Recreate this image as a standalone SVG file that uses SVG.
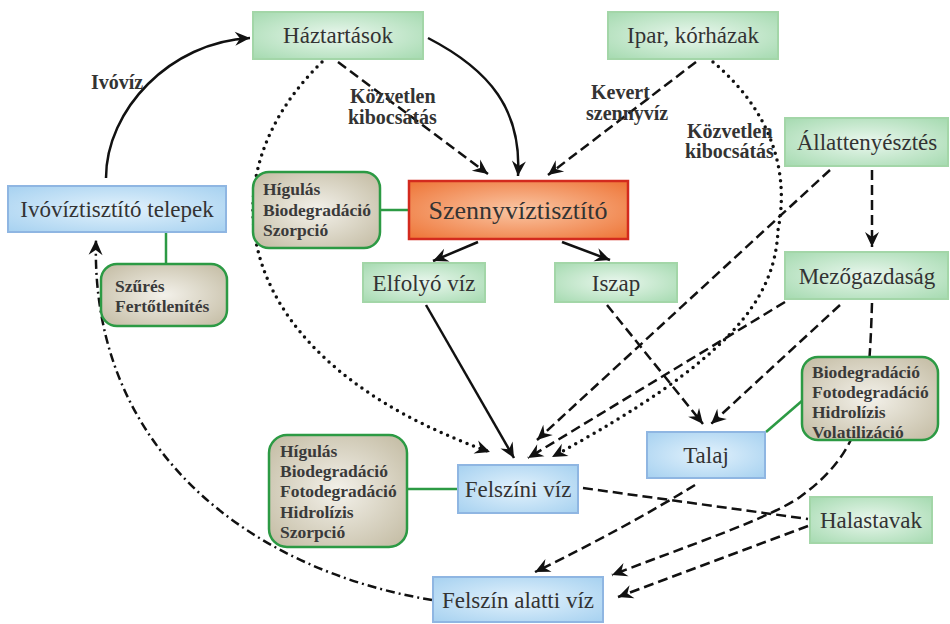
<svg xmlns="http://www.w3.org/2000/svg" width="950" height="624" viewBox="0 0 950 624">
<style>
.green{fill:url(#gGreen);stroke:#a3d6a8;stroke-width:2}
.blue{fill:url(#gBlue);stroke:#8fb6e2;stroke-width:2}
.orange{fill:url(#gOrange);stroke:#d32a1e;stroke-width:2.5}
.proc{fill:url(#gBeige);stroke:#2c9a44;stroke-width:2.5}
.nt{font-family:"Liberation Serif","Times New Roman",serif;font-size:23px;fill:#333;text-anchor:middle}
.pt{font-family:"Liberation Serif","Times New Roman",serif;font-size:17.5px;font-weight:bold;fill:#3a3a3a}
.lt{font-family:"Liberation Serif","Times New Roman",serif;font-size:20px;font-weight:bold;fill:#333}
.c{fill:none;stroke:#111;stroke-width:2.5}
.dash{stroke-dasharray:10 5}
.dot{stroke-dasharray:0 7;stroke-linecap:round;stroke-width:3.5}
.dd{stroke-dasharray:9 4 2 4}
.link{fill:none;stroke:#2c9a44;stroke-width:2.5}
.arr{marker-end:url(#ah)}
</style>
<defs>
<radialGradient id="gGreen" cx="50%" cy="50%" r="70%">
<stop offset="0" stop-color="#eaf7ee"/>
<stop offset="1" stop-color="#a5dab0"/>
</radialGradient>
<radialGradient id="gBlue" cx="50%" cy="50%" r="70%">
<stop offset="0" stop-color="#e3f2fc"/>
<stop offset="1" stop-color="#a6d1f0"/>
</radialGradient>
<radialGradient id="gOrange" cx="50%" cy="50%" r="70%">
<stop offset="0" stop-color="#fac6a4"/>
<stop offset="1" stop-color="#ee7436"/>
</radialGradient>
<radialGradient id="gBeige" cx="50%" cy="50%" r="70%">
<stop offset="0" stop-color="#f3f1ea"/>
<stop offset="1" stop-color="#c2baa1"/>
</radialGradient>
<marker id="ah" viewBox="-16 -8 17 16" refX="0" refY="0" markerWidth="17" markerHeight="16" markerUnits="userSpaceOnUse" orient="auto">
<path d="M0,0 L-15,-7 L-10,0 L-15,7 Z" fill="#111"/>
</marker>
</defs>

<g id="connectors">
<path class="c arr" d="M106,178 C106,110 170,42 250,38"/>
<path class="c arr" d="M428,38 C490,70 522,110 518,176"/>
<path class="c dash arr" d="M338,62 L488,174"/>
<path class="c dash arr" d="M696,62 L548,175"/>
<path class="c dot arr" d="M713,62 C770,110 790,170 778,230 C775,300 730,360 552,457"/>
<path class="c dot arr" d="M322,62 C200,180 230,360 490,452"/>
<path class="c arr" d="M478,242 L433,261"/>
<path class="c arr" d="M562,242 L610,260"/>
<path class="c arr" d="M426,305 L514,458"/>
<path class="c dash arr" d="M607,305 L703,424"/>
<path class="c dash arr" d="M830,170 L537,440"/>
<path class="c dash arr" d="M785,302 L528,458"/>
<path class="c dash arr" d="M840,305 L711,424"/>
<path class="c dash arr" d="M872,170 L872,247"/>
<path class="c dash arr" d="M872,303 C869,400 865,450 800,497 C770,518 690,545 612,575"/>
<path class="c dash" d="M583,488 L808,519"/>
<path class="c dash arr" d="M695,485 Q625,528 535,572"/>
<path class="c dash arr" d="M808,526 L618,597"/>
<path class="c dd arr" d="M432,600 C250,570 90,450 96,240"/>
<path class="link" d="M166,233 L166,263"/>
<path class="link" d="M380,210 L409,210"/>
<path class="link" d="M407,489 L458,489"/>
<path class="link" d="M766,432 L803,400"/>
</g>

<g id="labels">
<text class="lt" x="91" y="89">Ivóvíz</text>
<text class="lt" x="350" y="103">Közvetlen</text>
<text class="lt" x="348" y="124">kibocsátás</text>
<text class="lt" x="591" y="99">Kevert</text>
<text class="lt" x="586" y="120">szennyvíz</text>
<text class="lt" x="687" y="138">Közvetlen</text>
<text class="lt" x="685" y="158">kibocsátás</text>
</g>

<g id="haztartasok">
<rect class="green" x="253" y="12" width="170" height="47"/>
<text class="nt" x="338" y="43">Háztartások</text>
</g>
<g id="ipar">
<rect class="green" x="608" y="12" width="170" height="47"/>
<text class="nt" x="693" y="43">Ipar, kórházak</text>
</g>
<g id="allattenyesztes">
<rect class="green" x="785" y="118" width="163" height="48"/>
<text class="nt" x="867" y="150">Állattenyésztés</text>
</g>
<g id="ivoviztisztito">
<rect class="blue" x="8" y="186" width="218" height="46"/>
<text class="nt" x="117" y="217">Ivóvíztisztító telepek</text>
</g>
<g id="szures">
<rect class="proc" x="101" y="264" width="126" height="62" rx="16"/>
<text class="pt" x="115" y="292">Szűrés</text>
<text class="pt" x="115" y="312">Fertőtlenítés</text>
</g>
<g id="higulas1">
<rect class="proc" x="253" y="172" width="127" height="76" rx="16"/>
<text class="pt" x="263" y="195">Hígulás</text>
<text class="pt" x="263" y="216">Biodegradáció</text>
<text class="pt" x="263" y="236">Szorpció</text>
</g>
<g id="szennyviztisztito">
<rect class="orange" x="409" y="181" width="219" height="58"/>
<text class="nt" x="518" y="219" style="font-size:26px">Szennyvíztisztító</text>
</g>
<g id="elfolyo">
<rect class="green" x="363" y="263" width="122" height="39"/>
<text class="nt" x="424" y="291">Elfolyó víz</text>
</g>
<g id="iszap">
<rect class="green" x="555" y="263" width="122" height="39"/>
<text class="nt" x="616" y="291">Iszap</text>
</g>
<g id="mezogazdasag">
<rect class="green" x="785" y="252" width="163" height="47"/>
<text class="nt" x="867" y="284">Mezőgazdaság</text>
</g>
<g id="biodeg2">
<rect class="proc" x="802" y="357" width="136" height="83" rx="16"/>
<text class="pt" x="812" y="378">Biodegradáció</text>
<text class="pt" x="812" y="398">Fotodegradáció</text>
<text class="pt" x="812" y="418">Hidrolízis</text>
<text class="pt" x="812" y="438">Volatilizáció</text>
</g>
<g id="talaj">
<rect class="blue" x="647" y="432" width="118" height="46"/>
<text class="nt" x="706" y="463">Talaj</text>
</g>
<g id="higulas2">
<rect class="proc" x="269" y="435" width="138" height="112" rx="18"/>
<text class="pt" x="280" y="457">Hígulás</text>
<text class="pt" x="280" y="477">Biodegradáció</text>
<text class="pt" x="280" y="497">Fotodegradáció</text>
<text class="pt" x="280" y="518">Hidrolízis</text>
<text class="pt" x="280" y="538">Szorpció</text>
</g>
<g id="felszini">
<rect class="blue" x="458" y="465" width="120" height="48"/>
<text class="nt" x="518" y="497">Felszíni víz</text>
</g>
<g id="halastavak">
<rect class="green" x="810" y="497" width="122" height="46"/>
<text class="nt" x="871" y="528">Halastavak</text>
</g>
<g id="felszinalatti">
<rect class="blue" x="433" y="577" width="170" height="45"/>
<text class="nt" x="518" y="608">Felszín alatti víz</text>
</g>
</svg>
